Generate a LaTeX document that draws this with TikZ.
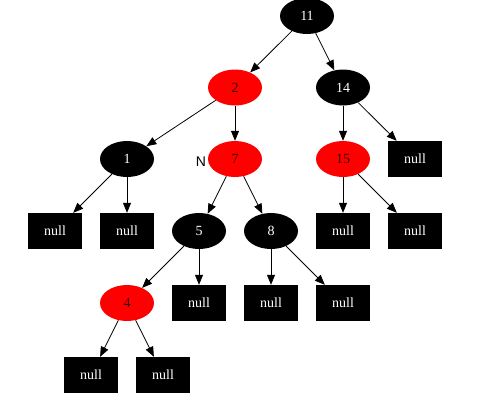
\documentclass[tikz,border=0pt]{standalone}
\usepackage{fontspec}
\setmainfont{Liberation Serif}
\newfontfamily\labelfont{Liberation Sans}
\usetikzlibrary{arrows.meta,shapes.geometric}
\tikzset{
  rbnode/.style={ellipse, minimum width=54pt, minimum height=36pt, inner sep=0pt, font=\fontsize{14}{14}\selectfont},
  blacknode/.style={rbnode, fill=black, text=white},
  rednode/.style={rbnode, fill=red, text=black!80!red},
  nullbox/.style={rectangle, fill=black, text=white, minimum width=54pt, minimum height=36pt, inner sep=0pt, font=\fontsize{14}{14}\selectfont},
  edge/.style={draw=black, line width=0.8pt, -{Triangle[length=10pt,width=8pt]}},
}
\begin{document}
\begin{tikzpicture}[x=1pt,y=-1pt]
\useasboundingbox (0,0) rectangle (478,400);
\node[blacknode] (n11) at (307,16) {11};
\node[rednode] (n2) at (235,87.5) {2};
\node[blacknode] (n14) at (343,87.5) {14};
\node[blacknode] (n1) at (127,159) {1};
\node[rednode] (n7) at (235,159) {7};
\node[rednode] (n15) at (343,159) {15};
\node[nullbox] (z14) at (415,159) {null};
\node[nullbox] (z1a) at (55,231) {null};
\node[nullbox] (z1b) at (127,231) {null};
\node[blacknode] (n5) at (199,231) {5};
\node[blacknode] (n8) at (271,231) {8};
\node[nullbox] (z15a) at (343,231) {null};
\node[nullbox] (z15b) at (415,231) {null};
\node[rednode] (n4) at (127,303) {4};
\node[nullbox] (z5) at (199,303) {null};
\node[nullbox] (z8a) at (271,303) {null};
\node[nullbox] (z8b) at (343,303) {null};
\node[nullbox] (z4a) at (91,375) {null};
\node[nullbox] (z4b) at (163,375) {null};
\node[font=\labelfont\fontsize{14}{14}\selectfont] (lblN) at (201,161.5) {N};
\draw[edge] (n11) -- (n2);
\draw[edge] (n11) -- (n14);
\draw[edge] (n2) -- (n1);
\draw[edge] (n2) -- (n7);
\draw[edge] (n14) -- (n15);
\draw[edge] (n14) -- (z14);
\draw[edge] (n1) -- (z1a);
\draw[edge] (n1) -- (z1b);
\draw[edge] (n7) -- (n5);
\draw[edge] (n7) -- (n8);
\draw[edge] (n15) -- (z15a);
\draw[edge] (n15) -- (z15b);
\draw[edge] (n5) -- (n4);
\draw[edge] (n5) -- (z5);
\draw[edge] (n8) -- (z8a);
\draw[edge] (n8) -- (z8b);
\draw[edge] (n4) -- (z4a);
\draw[edge] (n4) -- (z4b);
\end{tikzpicture}
\end{document}
